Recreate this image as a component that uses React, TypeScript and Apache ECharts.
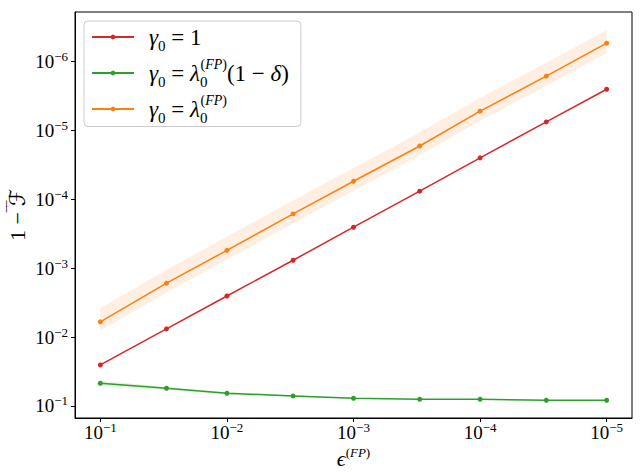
import React, { useEffect, useRef } from "react";
import * as echarts from "echarts";

// ---- data ----
const xValues = [1e-1, 3e-2, 1e-2, 3e-3, 1e-3, 3e-4, 1e-4, 3e-5, 1e-5];
const redValues = [2.54e-2, 7.6e-3, 2.53e-3, 7.66e-4, 2.54e-4, 7.62e-5, 2.5e-5, 7.52e-6, 2.52e-6];
const greenValues = [4.68e-2, 5.53e-2, 6.54e-2, 7.16e-2, 7.73e-2, 7.99e-2, 7.99e-2, 8.27e-2, 8.27e-2];
const greenLow = [4.3e-2, 5.25e-2, 6.3e-2, 7.0e-2, 7.6e-2, 7.9e-2, 7.9e-2, 8.2e-2, 8.2e-2];
const greenHigh = [5.1e-2, 5.85e-2, 6.8e-2, 7.35e-2, 7.85e-2, 8.1e-2, 8.1e-2, 8.35e-2, 8.35e-2];
const orangeValues = [6.0e-3, 1.65e-3, 5.5e-4, 1.63e-4, 5.46e-5, 1.68e-5, 5.25e-6, 1.63e-6, 5.4e-7];
const orangeLow = [3.8e-3, 1.05e-3, 3.5e-4, 1.04e-4, 3.5e-5, 1.07e-5, 3.35e-6, 1.04e-6, 3.47e-7];
const orangeHigh = [8.1e-3, 2.25e-3, 7.5e-4, 2.25e-4, 7.5e-5, 2.3e-5, 7.2e-6, 2.25e-6, 7.55e-7];

const xTicks = [1e-1, 1e-2, 1e-3, 1e-4, 1e-5];
const yTicks = [1e-1, 1e-2, 1e-3, 1e-4, 1e-5, 1e-6];

const seriesNames = ["s1", "s2", "s3"];
const legendLabels: Record<string, string> = {
  s1: "{i|γ}{sb|0}{n| = 1}",
  s2: "{i|γ}{sb|0}{n| = }{i|λ}{sz|0}{spr|(}{spi|FP}{spr|)}{n|(1 − }{i|δ}{n|)}",
  s3: "{i|γ}{sb|0}{n| = }{i|λ}{sz|0}{spr|(}{spi|FP}{spr|)}",
};

const FONT = "'Liberation Serif', 'DejaVu Serif', serif";
const RED = "#d62728";
const GREEN = "#2ca02c";
const ORANGE = "#ff7f0e";

function expLabel(v: number) {
  const n = Math.round(Math.log10(v));
  return `{b|10}{s|−${-n}}`;
}

const tickRich = {
  b: { fontSize: 19, fontFamily: FONT, color: "#000", lineHeight: 18, height: 18 },
  s: { fontSize: 13, fontFamily: FONT, color: "#000", lineHeight: 8, height: 8, verticalAlign: "top" },
};

function bandSeries(low: number[], high: number[], color: string, opacity: number) {
  return {
    type: "custom",
    silent: true,
    z: 1,
    clip: true,
    data: [[xValues[0], low[0]]],
    renderItem: (_params: any, api: any) => {
      const pts: number[][] = [];
      for (let i = 0; i < xValues.length; i++) pts.push(api.coord([xValues[i], high[i]]));
      for (let i = xValues.length - 1; i >= 0; i--) pts.push(api.coord([xValues[i], low[i]]));
      return {
        type: "polygon",
        shape: { points: pts },
        style: { fill: color, opacity },
      };
    },
  };
}

function lineSeries(name: string, values: number[], color: string) {
  return {
    type: "line",
    name,
    z: 3,
    data: xValues.map((x, i) => [x, values[i]]),
    symbol: "circle",
    symbolSize: 5,
    showSymbol: true,
    itemStyle: { color },
    lineStyle: { color, width: 1.5 },
  };
}

export default function App() {
  const ref = useRef<HTMLDivElement>(null);
  useEffect(() => {
    document.body.style.margin = "0";
    const chart = echarts.init(ref.current!, null, { renderer: "svg" });
    const option: any = {
      animation: false,
      backgroundColor: "#fff",
      grid: {
        left: 75,
        right: 11,
        top: 12,
        bottom: 54,
        show: true,
        borderColor: "#000",
        borderWidth: 1,
        outerBoundsMode: "none",
      },
      legend: {
        orient: "vertical",
        left: 84,
        top: 21,
        data: seriesNames,
        selectedMode: false,
        padding: [2, 12, 1, 7],
        itemGap: 3.5,
        itemWidth: 42,
        itemHeight: 6,
        backgroundColor: "rgba(255,255,255,0.8)",
        borderColor: "#cccccc",
        borderWidth: 1,
        borderRadius: 4,
        formatter: (name: string) => legendLabels[name],
        textStyle: {
          padding: [0, 0, 0, 10],
          lineHeight: 28,
          rich: {
            n: { fontSize: 23, fontFamily: FONT, color: "#000", lineHeight: 28, height: 28 },
            i: { fontSize: 23, fontFamily: FONT, fontStyle: "italic", color: "#000", lineHeight: 28, height: 28 },
            sb: { fontSize: 15, fontFamily: FONT, color: "#000", lineHeight: 10, height: 10, verticalAlign: "bottom" },
            sz: { fontSize: 15, fontFamily: FONT, color: "#000", lineHeight: 10, height: 10, verticalAlign: "bottom", width: 0.5 },
            spr: { fontSize: 14, fontFamily: FONT, color: "#000", lineHeight: 10, height: 10, verticalAlign: "top" },
            spi: { fontSize: 14, fontFamily: FONT, fontStyle: "italic", color: "#000", lineHeight: 10, height: 10, verticalAlign: "top" },
          },
        },
      },
      xAxis: {
        type: "log",
        logBase: 10,
        min: Math.pow(10, -5.2),
        max: Math.pow(10, -0.8),
        inverse: true,
        axisLine: { show: true, lineStyle: { color: "#000", width: 1 } },
        axisTick: { show: true, customValues: xTicks, length: 4, lineStyle: { color: "#000", width: 1 } },
        axisLabel: { customValues: xTicks, formatter: expLabel, margin: 5, rich: tickRich },
        splitLine: { show: false },
        minorTick: { show: false },
        name: "{e|ϵ}{spr|(}{spi|FP}{spr|)}",
        nameLocation: "middle",
        nameGap: 29,
        nameMoveOverlap: false,
        nameTextStyle: {
          rich: {
            e: { fontSize: 22, fontFamily: FONT, fontStyle: "italic", color: "#000", lineHeight: 22, height: 22 },
            spr: { fontSize: 13, fontFamily: FONT, color: "#000", lineHeight: 10, height: 10, verticalAlign: "top" },
            spi: { fontSize: 13, fontFamily: FONT, fontStyle: "italic", color: "#000", lineHeight: 10, height: 10, verticalAlign: "top" },
          },
        },
      },
      yAxis: {
        type: "log",
        logBase: 10,
        min: Math.pow(10, -6.72),
        max: Math.pow(10, -0.825),
        inverse: true,
        axisLine: { show: true, lineStyle: { color: "#000", width: 1 } },
        axisTick: { show: true, customValues: yTicks, length: 4, lineStyle: { color: "#000", width: 1 } },
        axisLabel: { customValues: yTicks, formatter: expLabel, margin: 7, rich: tickRich },
        splitLine: { show: false },
        minorTick: { show: false },
        name: "{n|1 − }{o|‾‾}{f|ℱ}",
        nameLocation: "middle",
        nameRotate: 90,
        nameGap: 45,
        nameMoveOverlap: false,
        nameTextStyle: {
          rich: {
            n: { fontSize: 22, fontFamily: FONT, color: "#000", lineHeight: 26, height: 26 },
            o: { fontSize: 17, fontFamily: FONT, color: "#000", lineHeight: 20, height: 20, verticalAlign: "top", width: 0.5 },
            f: { fontSize: 22, fontFamily: "'DejaVu Serif', 'DejaVu Sans', serif", color: "#000", lineHeight: 26, height: 26 },
          },
        },
      },
      series: [
        bandSeries(greenLow, greenHigh, GREEN, 0.12),
        bandSeries(orangeLow, orangeHigh, ORANGE, 0.12),
        lineSeries("s1", redValues, RED),
        lineSeries("s2", greenValues, GREEN),
        lineSeries("s3", orangeValues, ORANGE),
      ],
    };
    chart.setOption(option);
    return () => chart.dispose();
  }, []);
  return <div ref={ref} style={{ width: 643, height: 472 }} />;
}
